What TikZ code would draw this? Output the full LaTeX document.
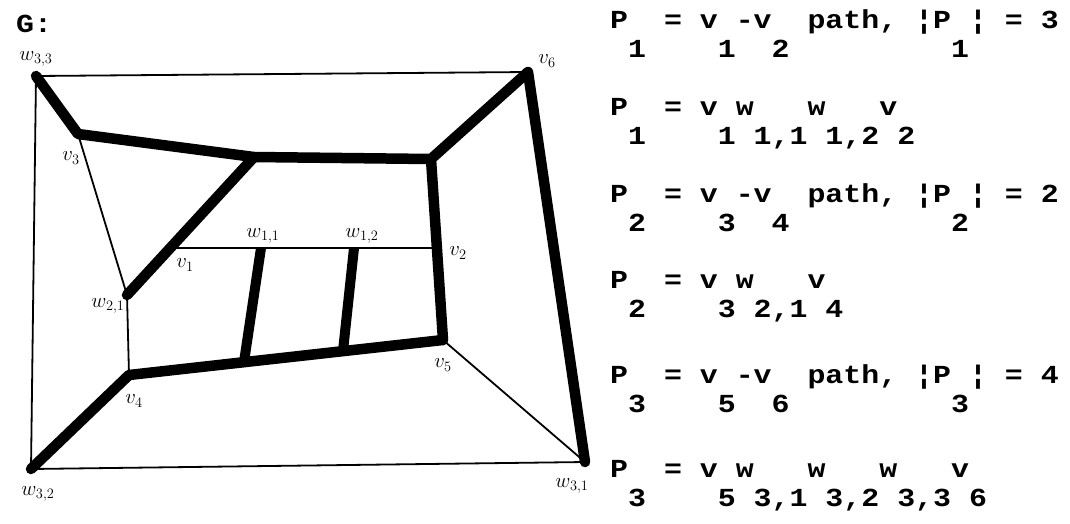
\documentclass[tikz,border=0pt]{standalone}
\usepackage{fontspec}
\newfontfamily\typer{Liberation Mono}[FakeStretch=1.15]
\usetikzlibrary{positioning}

\begin{document}
\begin{tikzpicture}[x=1pt, y=-1pt, every node/.style={inner sep=0pt},
	thickedge/.style={line width=10.5pt, line cap=round, line join=round},
	rungedge/.style={line width=10pt},
	thinedge/.style={line width=1.8pt, line join=round},
	vlabel/.style={font=\fontsize{20}{20}\selectfont},
	typed/.style={anchor=base west, font=\typer\bfseries\fontsize{26}{26}\selectfont}]
	\useasboundingbox (0,0) rectangle (1070,523);
	% the graph G
	\coordinate (w33) at (36,76);
	\coordinate (v6) at (528,72);
	\coordinate (w32) at (31,469);
	\coordinate (w31) at (585,462);
	\coordinate (v3) at (78,134);
	\coordinate (j1) at (254,157);
	\coordinate (j2) at (431,159);
	\coordinate (w21) at (127,295);
	\coordinate (v4) at (129,375);
	\coordinate (v5) at (443,340);
	\coordinate (v1) at (170,248);
	\coordinate (v2) at (437,248);
	\coordinate (w11) at (261,248);
	\coordinate (w12) at (354,248);
	\coordinate (f11) at (244,362);
	\coordinate (f12) at (343,351);
	\draw[thickedge] (w33) -- (v3) -- (j1) -- (j2) -- (v6) -- (w31);
	\draw[thickedge] (j1) -- (w21);
	\draw[thickedge] (j2) -- (v5);
	\draw[thickedge] (w32) -- (v4) -- (v5);
	\draw[rungedge] (w11) -- (f11);
	\draw[rungedge] (w12) -- (f12);
	\draw[thinedge] (w33) -- (v6);
	\draw[thinedge] (w33) -- (w32) -- (w31) -- (v5);
	\draw[thinedge] (v3) -- (w21) -- (v4);
	\draw[thinedge] (v1) -- (v2);
	% vertex names
	\node[vlabel] (lw33) at (36,59) {$w_{3,3}$};
	\node[vlabel] (lv6) at (547,61) {$v_6$};
	\node[vlabel] (lv3) at (71,158) {$v_3$};
	\node[vlabel] (lw11) at (263,236) {$w_{1,1}$};
	\node[vlabel] (lw12) at (362,236) {$w_{1,2}$};
	\node[vlabel] (lv2) at (458,253) {$v_2$};
	\node[vlabel] (lv1) at (185,265) {$v_1$};
	\node[vlabel] (lw21) at (108,306) {$w_{2,1}$};
	\node[vlabel] (lv4) at (134,401) {$v_4$};
	\node[vlabel] (lv5) at (443,365) {$v_5$};
	\node[vlabel] (lw32) at (38,494) {$w_{3,2}$};
	\node[vlabel] (lw31) at (572,486) {$w_{3,1}$};
	\node[typed] (gname) at (16,32) {G:};
	% the paths, typed with subscripts one line down
	\foreach \i/\y/\m/\s in {
		1/28/{P~~=~v~-v~~path,~¦P~¦~=~3}/{~1~~~~1~~2~~~~~~~~~1},
		2/115/{P~~=~v~w~~~w~~~v}/{~1~~~~1~1,1~1,2~2},
		3/202/{P~~=~v~-v~~path,~¦P~¦~=~2}/{~2~~~~3~~4~~~~~~~~~2},
		4/288/{P~~=~v~w~~~v}/{~2~~~~3~2,1~4},
		5/383/{P~~=~v~-v~~path,~¦P~¦~=~4}/{~3~~~~5~~6~~~~~~~~~3},
		6/477/{P~~=~v~w~~~w~~~w~~~v}/{~3~~~~5~3,1~3,2~3,3~6}} {
		\node[typed] (t\i) at (610,\y) {\m};
		\node[typed] (s\i) at (610,\y+29) {\s};
	}
\end{tikzpicture}
\end{document}
